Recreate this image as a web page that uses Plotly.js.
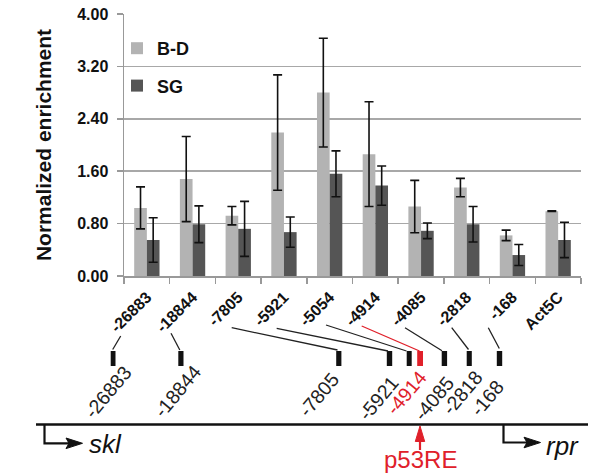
<!DOCTYPE html>
<html>
<head>
<meta charset="utf-8">
<script src="https://cdn.plot.ly/plotly-3.0.1.min.js"></script>
<style>html,body{margin:0;padding:0;background:#fff;}#chart{width:590px;height:475px;}</style>
</head>
<body>
<div id="chart"></div>
<script>
// ---- data ----
var categories = ['-26883','-18844','-7805','-5921','-5054','-4914','-4085','-2818','-168','Act5C'];
var bdValues   = [1.04, 1.48, 0.92, 2.19, 2.80, 1.86, 1.06, 1.35, 0.62, 0.99];
var bdErrors   = [0.32, 0.65, 0.14, 0.88, 0.83, 0.80, 0.40, 0.14, 0.08, 0.005];
var sgValues   = [0.55, 0.79, 0.72, 0.67, 1.56, 1.38, 0.69, 0.79, 0.32, 0.55];
var sgErrors   = [0.34, 0.28, 0.42, 0.23, 0.35, 0.30, 0.12, 0.27, 0.16, 0.27];
var yTickVals  = [0, 0.8, 1.6, 2.4, 3.2, 4.0];
var yTickText  = ['0.00','0.80','1.60','2.40','3.20','4.00'];

// gene map labels (schematic, below the chart)
var mapLabels  = ['-26883','-18844','-7805','-5921','-4914','-4085','-2818','-168'];
var mapLabelRed = [false,false,false,false,true,false,false,false];

// ---- layout geometry (pixels -> paper) ----
var L = 124, R = 581, T = 14, B = 276;
function px(x){ return (x - L) / (R - L); }
function py(y){ return (B - y) / (B - T); }

var RED = '#e0202a';
var FONT = 'Liberation Sans, Arial, sans-serif';
var shapes = [];
var annotations = [];

// markers on the map: [left, right, isRed]
var markers = [[110.7,115.5,0],[178.3,183.5,0],[336.2,341.4,0],[386.8,392.2,0],[406.7,411.7,0],[417.2,423.0,1],[441.7,447.1,0],[466.7,471.8,0],[496.8,502.2,0]];
markers.forEach(function(m){
  shapes.push({type:'rect', xref:'paper', yref:'paper', x0:px(m[0]), x1:px(m[1]), y0:py(351), y1:py(366),
    fillcolor: m[2] ? RED : '#111', line:{width:0}});
});
// connector lines from tick labels to markers: [x0,y0,x1,y1,isRed]
var connectors = [[120.7,336,112.7,349.5,0],[171,333.3,179.8,350,0],[231.7,327.7,337.5,350,0],[276.7,328.3,388,351,0],
  [326,325,406.5,351,0],[361.7,326,419.5,351,1],[405,327.7,442,350.7,0],[451.7,327.7,468.5,349.5,0],[488.3,327.7,499.3,348.5,0]];
connectors.forEach(function(c){
  shapes.push({type:'line', xref:'paper', yref:'paper', x0:px(c[0]), y0:py(c[1]), x1:px(c[2]), y1:py(c[3]),
    line:{color: c[4] ? RED : '#222', width:1.3}});
});
// chromosome line
shapes.push({type:'line', xref:'paper', yref:'paper', x0:px(36), x1:px(588), y0:py(424.5), y1:py(424.5), line:{color:'#111', width:2.6}});
// skl promoter arrow
shapes.push({type:'path', xref:'paper', yref:'paper', path:'M'+px(44.5)+','+py(424.5)+' L'+px(44.5)+','+py(443.3)+' L'+px(70)+','+py(443.3),
  line:{color:'#111', width:2.2}});
shapes.push({type:'path', xref:'paper', yref:'paper', path:'M'+px(66)+','+py(438)+' L'+px(82.5)+','+py(443.3)+' L'+px(66)+','+py(448.6)+' L'+px(69)+','+py(443.3)+' Z',
  fillcolor:'#111', line:{color:'#111', width:1}});
// rpr promoter arrow
shapes.push({type:'path', xref:'paper', yref:'paper', path:'M'+px(503.5)+','+py(424.5)+' L'+px(503.5)+','+py(442.5)+' L'+px(528)+','+py(442.5),
  line:{color:'#111', width:2.2}});
shapes.push({type:'path', xref:'paper', yref:'paper', path:'M'+px(524)+','+py(437.2)+' L'+px(540.5)+','+py(442.5)+' L'+px(524)+','+py(447.8)+' L'+px(527)+','+py(442.5)+' Z',
  fillcolor:'#111', line:{color:'#111', width:1}});
// p53RE red arrow
shapes.push({type:'line', xref:'paper', yref:'paper', x0:px(420), x1:px(420), y0:py(450), y1:py(438), line:{color:RED, width:2.2}});
shapes.push({type:'path', xref:'paper', yref:'paper', path:'M'+px(415.3)+','+py(441.5)+' L'+px(420)+','+py(426)+' L'+px(424.7)+','+py(441.5)+' Z',
  fillcolor:RED, line:{color:RED, width:1}});

// rotated map labels: centres in pixels
var mapLabelCentres = [[107.5,391.5],[177.5,391],[318.5,395],[378.3,397.5],[405.8,392.5],[434.2,398.3],[461.7,392.5],[486.7,397.5]];
mapLabels.forEach(function(t,i){
  annotations.push({text:t, xref:'paper', yref:'paper', x:px(mapLabelCentres[i][0]), y:py(mapLabelCentres[i][1]),
    xanchor:'center', yanchor:'middle', showarrow:false, textangle:-50,
    font:{family:FONT, size:19.5, color: mapLabelRed[i] ? RED : '#222'}});
});
annotations.push({text:'skl', xref:'paper', yref:'paper', x:px(86.5), y:py(444), xanchor:'left', yanchor:'middle', showarrow:false,
  font:{family:FONT, size:26, color:'#111', style:'italic'}});
annotations.push({text:'rpr', xref:'paper', yref:'paper', x:px(543.5), y:py(446), xanchor:'left', yanchor:'middle', showarrow:false,
  font:{family:FONT, size:26, color:'#111', style:'italic'}});
annotations.push({text:'p53RE', xref:'paper', yref:'paper', x:px(420), y:py(460), xanchor:'center', yanchor:'middle', showarrow:false,
  font:{family:FONT, size:24, color:RED}});

var traces = [
  {type:'bar', name:'B-D', x:categories, y:bdValues, legendgroup:'a',
   marker:{color:'#b3b3b3'},
   error_y:{type:'data', array:bdErrors, visible:true, color:'#111', thickness:1.6, width:4.5}},
  {type:'bar', name:'SG', x:categories, y:sgValues, legendgroup:'b',
   marker:{color:'#555555'},
   error_y:{type:'data', array:sgErrors, visible:true, color:'#111', thickness:1.6, width:4.5}}
];

var layout = {
  width:590, height:475,
  margin:{l:L, r:590-R, t:T, b:475-B, pad:0},
  paper_bgcolor:'#fff', plot_bgcolor:'#fff',
  barmode:'group', bargap:0.446, bargroupgap:0,
  showlegend:true,
  legend:{x:px(117), y:py(30), xanchor:'left', yanchor:'top', bgcolor:'rgba(0,0,0,0)',
    traceorder:'grouped', tracegroupgap:11,
    font:{family:FONT, size:18, color:'#111', weight:'bold'}},
  xaxis:{type:'category', tickson:'boundaries', ticks:'outside', ticklen:6, tickcolor:'#999', tickwidth:1.5,
    showline:true, linecolor:'#999', linewidth:1.5, showgrid:false, tickangle:-45, ticklabelstandoff:4,
    tickfont:{family:FONT, size:16, color:'#111', weight:'bold'}},
  yaxis:{range:[0,4], tickvals:yTickVals, ticktext:yTickText, ticks:'outside', ticklen:6, tickcolor:'#999', tickwidth:1.5,
    showline:true, linecolor:'#999', linewidth:1.5, showgrid:true, gridcolor:'#a8a8a8', gridwidth:1.5, zeroline:false,
    ticklabelstandoff:5,
    tickfont:{family:FONT, size:16, color:'#111', weight:'bold'},
    title:{text:'Normalized enrichment', standoff:20,
      font:{family:FONT, size:21, color:'#111', weight:'bold'}}},
  shapes:shapes,
  annotations:annotations
};

Plotly.newPlot('chart', traces, layout, {displayModeBar:false, staticPlot:true});
</script>
</body>
</html>
